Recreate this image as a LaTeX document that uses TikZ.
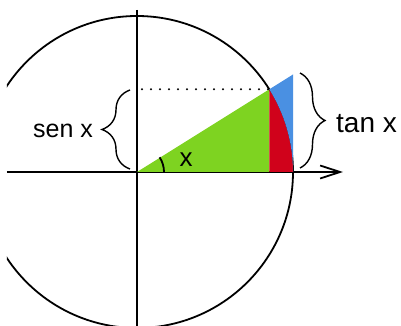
\documentclass[tikz,border=0pt]{standalone}
\usepackage{fontspec}
\setmainfont{Liberation Sans}
\usetikzlibrary{arrows.meta, decorations.pathreplacing, calc}
\definecolor{verde}{HTML}{7ED321}
\definecolor{rojo}{HTML}{D0021B}
\definecolor{azul}{HTML}{4A90E2}
\tikzset{
  eje/.style={line width=1.8pt},
  llave/.style={line width=1.4pt, decorate, decoration={brace, amplitude=#1}},
  etiqueta/.style={font=\fontsize{#1}{30}\selectfont, inner sep=0pt, anchor=base}
}
\begin{document}
\begin{tikzpicture}[x=1pt, y=1pt]
  \useasboundingbox (-137,-154) rectangle (264,172);
  \coordinate (O) at (0,0);
  \coordinate (P) at (32:156);
  \coordinate (T) at (156,97.5);
  \coordinate (A) at (156,0);
  \coordinate (Q) at (P |- O);
  \coordinate (S) at (5,0 |- P);
  \coordinate (sa) at (-7,3);
  \coordinate (sb) at (-7,82);
  \coordinate (ta) at (163,99);
  \coordinate (tb) at (163,4);

  \begin{scope}
    \clip (-130,-154) rectangle (264,172);
    \draw[eje] (O) circle (156);
  \end{scope}
  \draw[eje] (0,162) -- (0,-154);
  \draw[eje, -{Straight Barb[length=20pt, width=13pt]}] (-130,0) -- (206,0);

  \fill[verde] (O) -- (P) -- (Q) -- cycle;
  \fill[rojo] (Q) -- (P) arc[start angle=32, end angle=0, radius=156] -- cycle;
  \fill[azul] (P) -- (T) -- (A) arc[start angle=0, end angle=32, radius=156] -- cycle;

  \draw[line width=2.2pt, dash pattern=on 0pt off 9pt, line cap=round] (S) -- (P);
  \draw[eje] (27,0) arc[start angle=0, end angle=33, radius=27];

  \draw[llave=28pt] (sa) -- (sb);
  \draw[llave=25pt] (ta) -- (tb);

  \node[etiqueta=26] (angulo) at (49,5) {x};
  \node[etiqueta=25] (seno) at (-74,34) {sen x};
  \node[etiqueta=28] (tangente) at (229.5,39) {tan x};
\end{tikzpicture}
\end{document}
